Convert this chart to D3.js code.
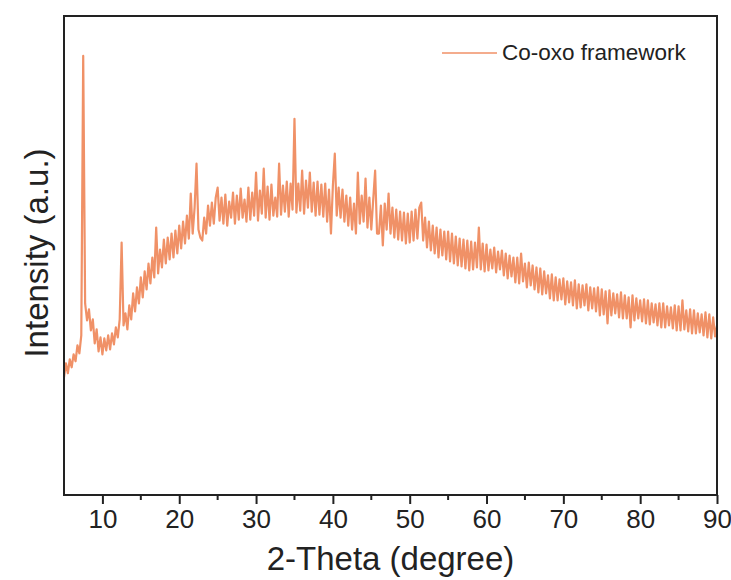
<!DOCTYPE html>
<html>
<head>
<meta charset="utf-8">
<script src="https://cdn.jsdelivr.net/npm/d3@7"></script>
<style>
    body { margin: 0; background: #fff; }
    svg { font-family: "Liberation Sans", Arial, sans-serif; }
</style>
</head>
<body>
<div id="chart"></div>
<script>
// XRD pattern, 2-theta sampled every 0.25 degree from 5 to 90
const thetaStart = 5;
const thetaStep = 0.25;

// intensity (a.u.), one row per degree
const intensity = [
    118, 132, 122, 136,   // 5
    128, 141, 134, 150,
    142, 160, 440, 192,
    175, 186, 165, 176,
    152, 166, 144, 158,
    141, 157, 145, 160,   // 10
    146, 162, 151, 168,
    158, 176, 253, 170,
    182, 166, 190, 176,
    202, 184, 208, 192,
    218, 198, 224, 206,   // 15
    232, 212, 238, 218,
    268, 222, 246, 228,
    256, 232, 258, 236,
    262, 238, 265, 242,
    270, 247, 274, 252,   // 20
    280, 257, 302, 262,
    288, 332, 266, 258,
    255, 278, 262, 290,
    270, 293, 272, 298,
    308, 275, 298, 272,   // 25
    301, 270, 294, 278,
    303, 272, 300, 276,
    307, 278, 296, 274,
    308, 276, 303, 280,
    323, 275, 305, 282,   // 30
    327, 278, 309, 276,
    311, 280, 298, 279,
    332, 281, 310, 284,
    314, 279, 312, 286,
    377, 283, 312, 285,   // 35
    325, 282, 315, 288,
    323, 284, 313, 280,
    314, 281, 311, 279,
    312, 274, 306, 262,
    310, 342, 280, 308,   // 40
    278, 306, 274, 300,
    270, 298, 266, 292,
    262, 323, 272, 300,
    274, 317, 268, 298,
    266, 296, 325, 262,   // 45
    262, 290, 250, 292,
    266, 302, 262, 288,
    258, 286, 256, 284,
    255, 283, 252, 282,
    253, 284, 255, 286,   // 50
    257, 288, 293, 255,
    278, 248, 274, 245,
    270, 242, 268, 238,
    266, 240, 264, 236,
    264, 234, 262, 232,   // 55
    259, 230, 257, 229,
    256, 227, 255, 225,
    254, 226, 253, 228,
    268, 226, 252, 224,
    251, 225, 246, 227,   // 60
    248, 223, 244, 226,
    245, 220, 242, 217,
    240, 219, 238, 213,
    238, 212, 242, 214,
    232, 208, 233, 210,   // 65
    230, 206, 228, 203,
    227, 201, 224, 202,
    220, 197, 221, 195,
    218, 195, 216, 196,
    217, 191, 214, 193,   // 70
    213, 190, 215, 187,
    211, 188, 210, 190,
    211, 185, 208, 187,
    207, 184, 208, 180,
    206, 181, 204, 172,   // 75
    205, 180, 202, 182,
    201, 178, 203, 177,
    200, 177, 198, 168,
    200, 175, 197, 177,
    195, 174, 196, 172,   // 80
    195, 171, 192, 173,
    191, 170, 192, 168,
    192, 168, 189, 170,
    188, 167, 190, 165,
    189, 165, 195, 166,   // 85
    185, 164, 186, 162,
    185, 162, 182, 163,
    181, 160, 183, 158,
    181, 157, 178, 159,
    170                   // 90
];

const majorTicks = [10, 20, 30, 40, 50, 60, 70, 80, 90];
const minorTicks = [15, 25, 35, 45, 55, 65, 75, 85];
const seriesName = 'Co-oxo framework';
const xTitle = '2-Theta (degree)';
const yTitle = 'Intensity (a.u.)';

const width = 731, height = 580;
const margin = { top: 16, right: 14, bottom: 85, left: 64 };
const lineColor = '#f09167';

const data = intensity.map((v, i) => ({ t: thetaStart + i * thetaStep, v: v }));

const svg = d3.select('#chart')
    .append('svg')
    .attr('width', width)
    .attr('height', height);

const x = d3.scaleLinear()
    .domain([5, 90])
    .range([margin.left, width - margin.right]);

const y = d3.scaleLinear()
    .domain([0, 480])
    .range([height - margin.bottom, margin.top]);

// the pattern
svg.append('path')
    .datum(data)
    .attr('fill', 'none')
    .attr('stroke', lineColor)
    .attr('stroke-width', 2.2)
    .attr('stroke-linejoin', 'round')
    .attr('d', d3.line().x(d => x(d.t)).y(d => y(d.v)));

// frame
svg.append('rect')
    .attr('x', margin.left)
    .attr('y', margin.top)
    .attr('width', width - margin.left - margin.right)
    .attr('height', height - margin.top - margin.bottom)
    .attr('fill', 'none')
    .attr('stroke', '#222')
    .attr('stroke-width', 2);

// x axis
const axisX = svg.append('g')
    .attr('transform', `translate(0, ${height - margin.bottom})`)
    .call(d3.axisBottom(x).tickValues(majorTicks).tickSize(9).tickPadding(6).tickFormat(d3.format('d')));

axisX.select('.domain').remove();
axisX.selectAll('line').attr('stroke', '#222').attr('stroke-width', 2);
axisX.selectAll('text')
    .attr('fill', '#222')
    .style('font-size', '26px')
    .style('font-family', '"Liberation Sans", Arial, sans-serif');

svg.append('g')
    .selectAll('line')
    .data(minorTicks)
    .join('line')
    .attr('x1', d => x(d))
    .attr('x2', d => x(d))
    .attr('y1', height - margin.bottom)
    .attr('y2', height - margin.bottom + 5)
    .attr('stroke', '#222')
    .attr('stroke-width', 2);

// Axes Labels
svg.append('text')
    .attr('x', (margin.left + width - margin.right) / 2)
    .attr('y', 570)
    .attr('text-anchor', 'middle')
    .attr('fill', '#222')
    .style('font-size', '33px')
    .text(xTitle);

svg.append('text')
    .attr('transform', `translate(48, 253) rotate(-90)`)
    .attr('text-anchor', 'middle')
    .attr('fill', '#222')
    .style('font-size', '33px')
    .text(yTitle);

// legend
const legend = svg.append('g');
legend.append('line')
    .attr('x1', 442).attr('x2', 497)
    .attr('y1', 53).attr('y2', 53)
    .attr('stroke', lineColor)
    .attr('stroke-width', 1.6);
legend.append('text')
    .attr('x', 502)
    .attr('y', 60)
    .attr('fill', '#222')
    .style('font-size', '22.5px')
    .text(seriesName);
</script>
</body>
</html>
